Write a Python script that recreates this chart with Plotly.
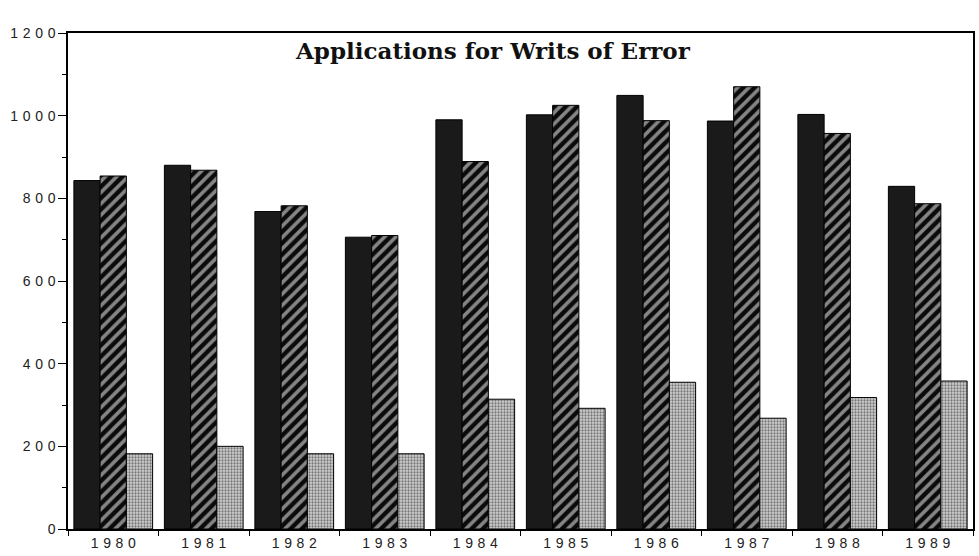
import plotly.graph_objects as go

years = ["1980", "1981", "1982", "1983", "1984", "1985", "1986", "1987", "1988", "1989"]
series_a = [843, 880, 768, 706, 990, 1002, 1049, 987, 1003, 829]   # solid dark bars
series_b = [854, 868, 782, 710, 889, 1025, 988, 1070, 957, 787]    # hatched bars
series_c = [182, 200, 182, 182, 314, 292, 355, 268, 318, 358]      # dotted bars
y_ticks = [0, 200, 400, 600, 800, 1000, 1200]

SP = "\u2004"  # letter spacing like the original typewriter-style labels
def spaced(s):
    return SP.join(list(s))

fig = go.Figure()
fig.add_trace(go.Bar(
    x=years, y=series_a, name="A",
    marker=dict(color="#1a1a1a", line=dict(color="black", width=1)),
))
fig.add_trace(go.Bar(
    x=years, y=series_b, name="B",
    marker=dict(color="#0a0a0a", line=dict(color="black", width=1),
                pattern=dict(shape="/", fgcolor="#ffffff", size=8, solidity=0.45, fillmode="overlay")),
))
fig.add_trace(go.Bar(
    x=years, y=series_c, name="C",
    marker=dict(color="#d0d0d0", line=dict(color="black", width=1),
                pattern=dict(shape=".", fgcolor="#1e1e1e", size=3, solidity=0.45, fillmode="overlay")),
))

fig.update_layout(
    width=979, height=556,
    margin=dict(l=68, r=4, t=33, b=27),
    paper_bgcolor="white", plot_bgcolor="white",
    barmode="group", bargap=0.13, bargroupgap=0,
    showlegend=False,
    font=dict(family="Liberation Sans, Arial, sans-serif", size=14, color="#222"),
    annotations=[dict(
        text="<b>Applications for Writs of Error</b>",
        x=0.47, y=0.964, xref="paper", yref="paper",
        xanchor="center", yanchor="middle", showarrow=False,
        font=dict(family="DejaVu Serif, Liberation Serif, serif", size=23, color="#111"),
    )],
)
fig.update_xaxes(
    type="category", tickson="boundaries", ticks="outside", ticklen=5,
    tickcolor="black", showline=True, linecolor="black", linewidth=1.5, mirror=True,
    showgrid=False, tickfont=dict(size=14, color="#222"),
    tickvals=years, ticktext=[spaced(y) for y in years],
)
fig.update_yaxes(
    range=[0, 1200], tickvals=y_ticks, ticktext=[spaced(str(v)) for v in y_ticks],
    ticks="outside", ticklen=8,
    tickcolor="black", showline=True, linecolor="black", linewidth=1.5, mirror=True,
    showgrid=False, zeroline=False, tickfont=dict(size=14, color="#222"),
    minor=dict(ticks="outside", dtick=100, ticklen=4, tickcolor="black", showgrid=False),
)

fig.write_html("out.html", config={"displayModeBar": False},
               post_script="document.body.style.margin='0';document.body.style.overflow='hidden';")
